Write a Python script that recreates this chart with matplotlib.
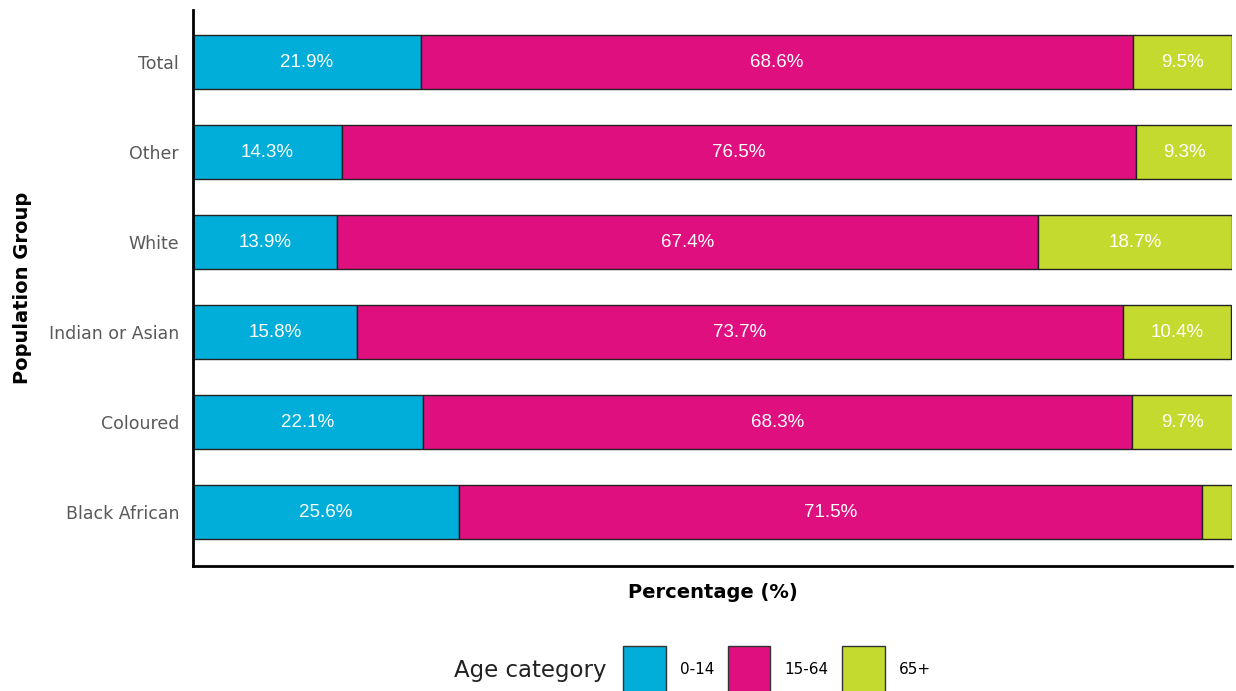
import matplotlib.pyplot as plt
from matplotlib.patches import Patch

groups = ["Black African", "Coloured", "Indian or Asian", "White", "Other", "Total"]
age_0_14 = [25.6, 22.1, 15.8, 13.9, 14.3, 21.9]
age_15_64 = [71.5, 68.3, 73.7, 67.4, 76.5, 68.6]
age_65 = [2.9, 9.7, 10.4, 18.7, 9.3, 9.5]
categories = ["0-14", "15-64", "65+"]
colors = ["#00AED9", "#E00F80", "#C5DA2E"]

plt.rcParams['font.family'] = ['DejaVu Sans']

fig = plt.figure(figsize=(12.36, 6.91), dpi=100)
ax = fig.add_axes([193 / 1236, 125 / 691, 1039 / 1236, 556 / 691])

y = list(range(len(groups)))
left = [0.0] * len(groups)
for vals, col in zip([age_0_14, age_15_64, age_65], colors):
    bars = ax.barh(y, vals, left=left, height=0.6, color=col,
                   edgecolor="#222222", linewidth=1)
    for yi, l, v in zip(y, left, vals):
        if v >= 5:
            ax.text(l + v / 2, yi, f"{v:.1f}%", ha="center", va="center",
                    color="white", fontsize=13.5, family=["Liberation Sans"])
    left = [a + b for a, b in zip(left, vals)]

ax.set_xlim(0, 100)
ax.set_ylim(-0.6, 5.58)
ax.set_yticks(y)
ax.set_yticklabels(groups, fontsize=12.5, color="#595959")
ax.set_xticks([])
ax.tick_params(axis="y", length=0, pad=10)
for s in ["top", "right"]:
    ax.spines[s].set_visible(False)
ax.spines["left"].set_linewidth(2)
ax.spines["bottom"].set_linewidth(2)

ax.set_xlabel("Percentage (%)", fontsize=14, fontweight="bold", labelpad=12)
ax.set_ylabel("Population Group", fontsize=14, fontweight="bold", labelpad=12)

fig.text(607 / 1236, 1 - 670 / 691, "Age category", ha="right", va="center",
         fontsize=16.5, color="#222222")
handles = [Patch(facecolor=c, edgecolor="#333333", linewidth=1) for c in colors]
fig.legend(handles, categories, loc="center left",
           bbox_to_anchor=(623 / 1236, 1 - 670 / 691), ncol=3, frameon=False,
           fontsize=11, handlelength=2.8, handleheight=4.4, handletextpad=0.9,
           columnspacing=0.9, borderpad=0, borderaxespad=0)

fig.savefig("out.png", dpi=100)
